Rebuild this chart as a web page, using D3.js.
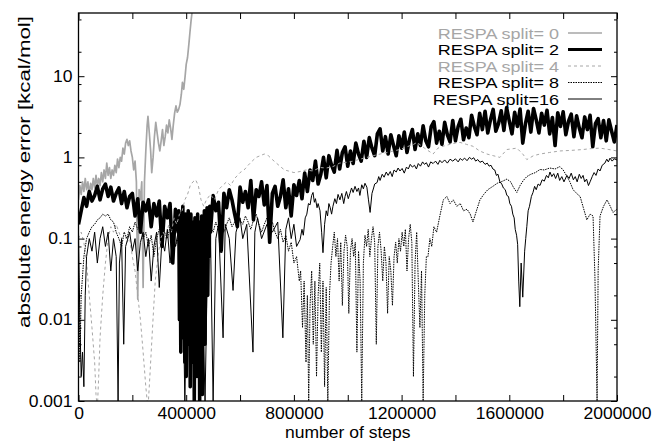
<!DOCTYPE html>
<html><head><meta charset="utf-8">
<script src="https://cdn.jsdelivr.net/npm/d3@7/dist/d3.min.js"></script>
<style>body{margin:0;background:#fff}svg{display:block}</style>
</head><body>
<svg id="c" width="652" height="441"></svg>
<script>
// ---- data (steps in thousands, absolute energy error in kcal/mol) ----
const xTickValues = [0,200000,400000,600000,800000,1000000,1200000,1400000,1600000,1800000,2000000];
const xTickLabels = ["0","","400000","","800000","","1200000","","1600000","","2000000"];
const yMajorTicks = [0.001,0.01,0.1,1,10];
const yTickLabels = ["0.001","0.01","0.1","1","10"];
const yMinorTicks = [0.002,0.005,0.008,0.02,0.05,0.08,0.2,0.5,0.8,2,5,8,20,50];
const legendLabels = ["RESPA split= 0","RESPA split= 2","RESPA split= 4","RESPA split= 8","RESPA split=16"];

const split0 = [[0,0.3],[5,0.45],[10,0.35],[15,0.5],[20,0.38],[25,0.55],[30,0.4],[35,0.5],[40,0.35],[45,0.48],[50,0.4],[55,0.55],[60,0.42],[65,0.6],[70,0.45],[75,0.55],[80,0.45],[85,0.65],[90,0.5],[95,0.7],[100,0.55],[105,0.85],[110,0.6],[115,0.75],[120,0.55],[125,0.7],[130,0.6],[135,0.8],[140,0.65],[145,0.95],[150,0.75],[155,1.0],[160,0.9],[165,1.3],[170,1.1],[175,1.5],[180,1.67],[185,1.4],[190,1.6],[195,1.2],[200,1.0],[205,0.7],[210,0.9],[215,0.5],[220,0.018],[225,0.4],[230,0.3],[235,0.5],[240,0.025],[245,0.5],[250,1.2],[255,2.5],[258,3.2],[263,2.0],[268,1.2],[272,0.65],[277,1.0],[282,1.8],[287,2.7],[292,2.0],[297,1.5],[302,1.2],[307,1.6],[312,2.2],[317,1.4],[322,1.8],[327,2.5],[332,2.0],[337,2.9],[342,2.3],[347,1.67],[352,2.5],[357,3.5],[362,4.3],[367,3.6],[372,3.9],[377,4.5],[382,6.0],[386,8.4],[391,6.9],[396,10],[400,14],[405,17],[410,25],[414,35],[418,48],[422,62],[425,80]];

const split2 = [[0,0.15],[10,0.22],[20,0.32],[30,0.25],[40,0.38],[50,0.29],[60,0.34],[70,0.44],[80,0.3],[90,0.41],[100,0.47],[110,0.33],[120,0.43],[130,0.29],[140,0.36],[150,0.42],[160,0.27],[170,0.38],[180,0.24],[190,0.33],[200,0.36],[210,0.19],[220,0.31],[230,0.12],[240,0.28],[250,0.22],[260,0.3],[270,0.14],[280,0.27],[290,0.19],[300,0.29],[310,0.08],[320,0.25],[330,0.18],[340,0.27],[350,0.05],[360,0.23],[370,0.12],[372.5,0.22],[375,0.01],[377.5,0.2],[380,0.004],[382.5,0.15],[385,0.02],[387.5,0.25],[390,0.006],[392.5,0.18],[395,0.003],[397.5,0.2],[400,0.002],[402.5,0.15],[405,0.015],[407.5,0.22],[410,0.005],[412.5,0.12],[415,0.0015],[417.5,0.2],[420,0.008],[422.5,0.16],[425,0.003],[427.5,0.1],[430,0.001],[432.5,0.18],[435,0.012],[437.5,0.14],[440,0.002],[442.5,0.2],[445,0.006],[447.5,0.11],[450,0.001],[452.5,0.16],[455,0.004],[457.5,0.19],[460,0.0012],[462.5,0.13],[465,0.01],[467.5,0.22],[470,0.005],[472.5,0.17],[475,0.03],[477.5,0.24],[480,0.02],[482.5,0.2],[485,0.06],[487.5,0.25],[490,0.12],[500,0.34],[510,0.22],[520,0.28],[530,0.07],[540,0.36],[550,0.24],[560,0.4],[570,0.3],[580,0.2],[590,0.14],[600,0.43],[610,0.28],[620,0.38],[630,0.24],[640,0.52],[650,0.17],[660,0.4],[670,0.33],[680,0.5],[690,0.26],[700,0.45],[710,0.09],[720,0.36],[730,0.44],[740,0.25],[750,0.33],[760,0.53],[770,0.24],[780,0.41],[790,0.19],[800,0.46],[810,0.34],[820,0.52],[830,0.31],[840,0.64],[850,0.38],[860,0.7],[870,0.52],[880,0.9],[890,0.47],[900,0.62],[910,1.0],[920,0.56],[930,1.05],[940,0.8],[950,0.66],[960,1.22],[970,0.72],[980,1.15],[990,1.35],[1000,0.78],[1010,1.2],[1020,0.84],[1030,1.5],[1040,1.1],[1050,0.9],[1060,1.58],[1070,1.0],[1080,1.75],[1090,1.3],[1100,1.05],[1110,1.95],[1120,2.25],[1130,1.2],[1140,1.8],[1150,1.1],[1160,1.9],[1170,1.4],[1180,1.05],[1190,1.85],[1200,1.3],[1210,2.05],[1220,1.15],[1230,1.7],[1240,2.2],[1250,1.25],[1260,1.95],[1270,1.4],[1280,2.45],[1290,1.6],[1300,1.35],[1310,2.4],[1320,2.75],[1330,1.5],[1340,2.1],[1350,1.45],[1360,2.7],[1370,1.9],[1380,1.55],[1390,2.85],[1400,1.6],[1410,2.4],[1420,2.95],[1430,1.65],[1440,2.3],[1450,1.75],[1460,3.3],[1470,2.4],[1480,1.9],[1490,3.5],[1500,2.2],[1510,3.7],[1520,2.0],[1530,2.9],[1540,3.9],[1550,2.1],[1560,2.6],[1570,3.75],[1580,2.15],[1590,4.1],[1600,2.8],[1610,1.95],[1620,3.6],[1630,2.4],[1640,3.95],[1650,1.5],[1660,2.6],[1670,3.7],[1680,2.05],[1690,4.0],[1700,2.9],[1710,2.0],[1720,3.5],[1730,2.5],[1740,3.8],[1750,1.95],[1760,3.1],[1770,1.4],[1780,3.55],[1790,2.4],[1800,3.65],[1810,1.9],[1820,2.8],[1830,3.4],[1840,1.8],[1850,3.25],[1860,2.3],[1870,1.75],[1880,3.15],[1890,2.2],[1900,3.3],[1910,1.35],[1920,2.6],[1930,3.0],[1940,1.75],[1950,2.85],[1960,1.6],[1970,2.9],[1980,2.1],[1990,1.55],[2000,2.5]];

const split4 = [[0,0.1],[10,0.12],[20,0.09],[30,0.05],[40,0.02],[50,0.008],[60,0.003],[65,0.0012],[70,0.0008],[75,0.002],[80,0.006],[90,0.02],[100,0.05],[110,0.1],[120,0.14],[130,0.12],[140,0.15],[150,0.12],[160,0.1],[170,0.12],[180,0.09],[190,0.1],[200,0.06],[210,0.04],[220,0.02],[230,0.01],[240,0.004],[250,0.0015],[258,0.0008],[265,0.002],[275,0.008],[285,0.03],[295,0.06],[305,0.1],[315,0.12],[325,0.1],[335,0.15],[345,0.12],[355,0.18],[365,0.15],[375,0.2],[385,0.22],[395,0.3],[405,0.35],[415,0.45],[425,0.5],[435,0.53],[445,0.45],[455,0.3],[465,0.25],[475,0.3],[490,0.35],[505,0.3],[520,0.4],[535,0.45],[550,0.5],[565,0.45],[580,0.55],[600,0.65],[615,0.7],[630,0.8],[645,0.9],[660,1.0],[675,1.05],[690,1.1],[705,1.05],[720,0.94],[735,0.85],[750,0.77],[765,0.7],[780,0.68],[800,0.65],[823,0.67],[845,0.7],[870,0.68],[897,0.75],[920,0.74],[945,0.77],[970,0.85],[995,0.87],[1020,0.9],[1045,0.95],[1071,1.0],[1095,1.05],[1120,1.1],[1145,1.15],[1170,1.2],[1194,1.25],[1220,1.35],[1245,1.45],[1257,1.53],[1285,1.3],[1317,1.1],[1335,1.3],[1354,1.37],[1380,1.45],[1400,1.5],[1417,1.53],[1440,1.45],[1465,1.37],[1490,1.2],[1517,1.1],[1540,1.05],[1565,1.0],[1591,1.25],[1628,1.3],[1650,1.1],[1665,0.94],[1690,1.05],[1714,1.1],[1750,1.15],[1788,1.2],[1830,1.22],[1874,1.25],[1900,1.28],[1937,1.3],[1970,1.25],[2000,1.2]];

const split8 = [[0,0.05],[5,0.003],[10,0.02],[20,0.06],[30,0.1],[40,0.12],[50,0.14],[60,0.15],[70,0.17],[80,0.18],[90,0.2],[100,0.19],[110,0.2],[120,0.17],[130,0.16],[140,0.12],[150,0.1],[160,0.08],[170,0.12],[180,0.1],[190,0.14],[200,0.12],[210,0.16],[220,0.13],[230,0.15],[240,0.1],[250,0.12],[260,0.08],[270,0.11],[280,0.06],[290,0.1],[300,0.13],[310,0.15],[320,0.12],[330,0.1],[340,0.14],[350,0.12],[360,0.08],[370,0.1],[380,0.05],[390,0.08],[400,0.04],[410,0.07],[420,0.05],[430,0.09],[440,0.06],[450,0.1],[460,0.08],[470,0.12],[480,0.1],[490,0.14],[500,0.12],[510,0.16],[520,0.13],[530,0.17],[540,0.12],[550,0.15],[560,0.18],[570,0.14],[580,0.16],[590,0.2],[600,0.17],[610,0.15],[620,0.19],[630,0.16],[640,0.13],[650,0.17],[660,0.2],[670,0.15],[680,0.12],[690,0.15],[700,0.18],[710,0.14],[720,0.16],[730,0.12],[740,0.1],[750,0.13],[760,0.09],[770,0.11],[780,0.07],[790,0.09],[800,0.05],[810,0.06],[820,0.03],[825,0.04],[832,0.008],[838,0.03],[845,0.003],[850,0.02],[855,0.001],[860,0.015],[866,0.04],[872,0.005],[878,0.03],[884,0.002],[890,0.02],[896,0.05],[902,0.004],[908,0.03],[914,0.0015],[920,0.025],[926,0.001],[932,0.02],[938,0.05],[944,0.08],[950,0.12],[956,0.06],[962,0.1],[968,0.03],[974,0.09],[980,0.015],[986,0.07],[992,0.11],[998,0.08],[1004,0.012],[1010,0.07],[1016,0.1],[1022,0.06],[1028,0.09],[1034,0.004],[1040,0.07],[1046,0.03],[1052,0.001],[1058,0.05],[1064,0.11],[1070,0.08],[1076,0.13],[1082,0.06],[1088,0.1],[1094,0.14],[1100,0.09],[1106,0.005],[1112,0.08],[1118,0.12],[1124,0.07],[1130,0.03],[1136,0.08],[1142,0.05],[1148,0.012],[1154,0.06],[1160,0.04],[1166,0.015],[1172,0.06],[1178,0.09],[1184,0.05],[1190,0.1],[1196,0.07],[1202,0.12],[1208,0.08],[1214,0.13],[1220,0.04],[1226,0.1],[1232,0.15],[1238,0.09],[1244,0.002],[1250,0.05],[1256,0.12],[1262,0.03],[1268,0.008],[1274,0.04],[1280,0.001],[1286,0.02],[1292,0.06],[1298,0.06],[1305,0.1],[1312,0.08],[1320,0.14],[1330,0.12],[1342,0.19],[1355,0.3],[1368,0.33],[1380,0.27],[1392,0.3],[1405,0.25],[1418,0.27],[1430,0.22],[1443,0.23],[1455,0.2],[1465,0.16],[1478,0.22],[1491,0.3],[1505,0.35],[1520,0.4],[1539,0.44],[1555,0.48],[1570,0.5],[1591,0.54],[1605,0.5],[1615,0.43],[1628,0.37],[1640,0.45],[1652,0.52],[1665,0.58],[1680,0.62],[1697,0.65],[1714,0.71],[1730,0.7],[1750,0.74],[1770,0.72],[1788,0.77],[1800,0.7],[1812,0.6],[1825,0.5],[1837,0.4],[1850,0.36],[1863,0.33],[1875,0.24],[1888,0.17],[1900,0.2],[1911,0.19],[1918,0.034],[1926,0.001],[1930,0.04],[1937,0.19],[1950,0.25],[1963,0.3],[1975,0.25],[1985,0.21],[2000,0.23]];

const split16 = [[0,0.12],[5,0.01],[10,0.002],[15,0.004],[20,0.0015],[25,0.02],[30,0.06],[40,0.1],[50,0.07],[60,0.12],[70,0.05],[80,0.1],[90,0.14],[100,0.08],[110,0.12],[120,0.04],[130,0.1],[140,0.06],[147,0.001],[152,0.05],[160,0.1],[168,0.005],[175,0.08],[190,0.12],[200,0.07],[210,0.1],[220,0.04],[230,0.09],[240,0.12],[250,0.06],[260,0.1],[270,0.03],[280,0.08],[290,0.12],[300,0.025],[310,0.1],[320,0.07],[330,0.13],[340,0.05],[350,0.1],[360,0.08],[370,0.12],[385,0.1],[395,0.001],[405,0.08],[415,0.01],[425,0.12],[440,0.02],[455,0.1],[470,0.001],[480,0.08],[490,0.12],[500,0.001],[510,0.1],[520,0.15],[537,0.006],[545,0.15],[560,0.1],[574,0.023],[585,0.12],[600,0.18],[610,0.1],[625,0.15],[648,0.004],[655,0.12],[665,0.18],[680,0.1],[700,0.15],[720,0.12],[740,0.16],[759,0.006],[770,0.13],[780,0.18],[790,0.1],[800,0.15],[810,0.08],[823,0.097],[830,0.13],[835,0.11],[842,0.18],[848,0.2],[854,0.27],[860,0.26],[866,0.34],[871,0.37],[876,0.28],[880,0.31],[886,0.24],[890,0.27],[897,0.22],[903,0.12],[908,0.067],[914,0.15],[920,0.22],[925,0.19],[930,0.27],[935,0.24],[940,0.2],[945,0.25],[952,0.31],[958,0.27],[964,0.35],[971,0.3],[978,0.36],[985,0.27],[990,0.33],[995,0.38],[1002,0.31],[1008,0.36],[1014,0.42],[1020,0.37],[1027,0.44],[1034,0.38],[1040,0.42],[1045,0.34],[1052,0.46],[1058,0.41],[1064,0.48],[1071,0.43],[1077,0.3],[1083,0.21],[1090,0.36],[1096,0.42],[1100,0.47],[1109,0.49],[1115,0.58],[1120,0.52],[1128,0.62],[1135,0.57],[1143,0.66],[1150,0.6],[1158,0.67],[1165,0.58],[1172,0.7],[1180,0.66],[1187,0.74],[1194,0.68],[1202,0.73],[1210,0.64],[1218,0.76],[1225,0.72],[1232,0.82],[1240,0.76],[1248,0.8],[1255,0.72],[1262,0.84],[1270,0.78],[1278,0.88],[1285,0.82],[1292,0.86],[1300,0.76],[1308,0.88],[1317,0.84],[1326,0.9],[1335,0.82],[1342,0.92],[1350,0.86],[1360,0.93],[1370,0.85],[1380,0.95],[1390,0.9],[1400,0.96],[1410,0.88],[1418,0.97],[1425,0.92],[1434,0.98],[1443,0.91],[1452,1.0],[1460,0.95],[1468,0.99],[1475,0.9],[1483,0.94],[1491,0.87],[1500,0.9],[1510,0.82],[1518,0.85],[1525,0.78],[1532,0.8],[1539,0.72],[1546,0.7],[1552,0.6],[1558,0.62],[1565,0.5],[1572,0.47],[1578,0.42],[1585,0.4],[1591,0.34],[1597,0.33],[1602,0.27],[1608,0.25],[1613,0.2],[1618,0.18],[1622,0.13],[1627,0.11],[1631,0.085],[1635,0.03],[1639,0.0145],[1644,0.05],[1650,0.019],[1657,0.07],[1661,0.1],[1665,0.14],[1670,0.22],[1675,0.25],[1682,0.33],[1688,0.37],[1694,0.44],[1700,0.4],[1707,0.47],[1714,0.45],[1722,0.53],[1730,0.51],[1738,0.6],[1745,0.56],[1751,0.66],[1758,0.58],[1765,0.63],[1772,0.55],[1780,0.64],[1787,0.52],[1795,0.58],[1803,0.5],[1814,0.6],[1822,0.55],[1830,0.64],[1838,0.53],[1845,0.58],[1852,0.5],[1860,0.62],[1867,0.55],[1874,0.6],[1880,0.5],[1887,0.54],[1894,0.45],[1900,0.5],[1908,0.58],[1915,0.65],[1922,0.6],[1930,0.72],[1937,0.68],[1945,0.8],[1955,0.85],[1962,0.95],[1968,0.88],[1974,0.98],[1982,0.9],[1990,0.96],[2000,0.93]];

// ---- layout ----
const L = 78.5, R = 617, T = 13, B = 401;
const FONT = "'Liberation Sans', Arial, Helvetica, sans-serif";
const GRAY = "#a6a6a6";

const svg = d3.select("#c");
const x = d3.scaleLinear().domain([0, 2000000]).range([L, R]);
const y = d3.scaleLog().domain([0.001, 60]).range([B, T]);

// widen glyphs horizontally (reference text is short and wide)
function widen(sel, factor) {
  sel.each(function() {
    const w = this.getComputedTextLength();
    if (w > 0) d3.select(this).attr("textLength", w*factor).attr("lengthAdjust","spacingAndGlyphs");
  });
}

svg.append("defs").append("clipPath").attr("id","clip")
  .append("rect").attr("x",L).attr("y",T).attr("width",R-L).attr("height",B-T);

const styles = [
  {data: split0,  color: GRAY,   width: 1.7, dash: null,    lw: 1.7},
  {data: split2,  color: "#000", width: 3.6, dash: null,    lw: 3.2},
  {data: split4,  color: GRAY,   width: 1.0, dash: "3,3",   lw: 1.0},
  {data: split8,  color: "#000", width: 1.0, dash: "1.5,1", lw: 1.0},
  {data: split16, color: "#000", width: 1.0, dash: null,    lw: 1.0}
];

const line = d3.line().x(d => x(d[0]*1000)).y(d => y(Math.max(d[1], 1e-4)));
const gLines = svg.append("g").attr("clip-path","url(#clip)");
styles.forEach(s => {
  gLines.append("path").datum(s.data).attr("d", line)
    .attr("fill","none").attr("stroke", s.color).attr("stroke-width", s.width)
    .attr("stroke-linejoin","round").attr("stroke-dasharray", s.dash);
});

// axes (gnuplot-style ticks inward, mirrored)
const axB = d3.axisBottom(x).tickValues(xTickValues).tickSize(-6).tickPadding(7)
  .tickFormat((d,i) => xTickLabels[i]);
svg.append("g").attr("class","lab").attr("transform",`translate(0,${B})`).call(axB)
  .call(g => g.select(".domain").remove());
svg.append("g").attr("transform",`translate(0,${T})`)
  .call(d3.axisTop(x).tickValues(xTickValues).tickSize(-6).tickFormat(""))
  .call(g => g.select(".domain").remove());

const axL = d3.axisLeft(y).tickValues(yMajorTicks).tickSize(-6).tickPadding(6)
  .tickFormat((d,i) => yTickLabels[i]);
svg.append("g").attr("class","lab").attr("transform",`translate(${L},0)`).call(axL)
  .call(g => g.select(".domain").remove());
svg.append("g").attr("transform",`translate(${L},0)`)
  .call(d3.axisLeft(y).tickValues(yMinorTicks).tickSize(-3).tickFormat(""))
  .call(g => g.select(".domain").remove());
svg.append("g").attr("transform",`translate(${R},0)`)
  .call(d3.axisRight(y).tickValues(yMajorTicks).tickSize(-6).tickFormat(""))
  .call(g => g.select(".domain").remove());
svg.append("g").attr("transform",`translate(${R},0)`)
  .call(d3.axisRight(y).tickValues(yMinorTicks).tickSize(-3).tickFormat(""))
  .call(g => g.select(".domain").remove());

svg.selectAll(".tick line").attr("stroke","#000").attr("stroke-width",1);
svg.selectAll(".lab .tick text").attr("font-family",FONT).attr("font-size",16).attr("fill","#000")
  .call(widen, 17.5/16);

// frame
svg.append("rect").attr("x",L).attr("y",T).attr("width",R-L).attr("height",B-T)
  .attr("fill","none").attr("stroke","#000").attr("stroke-width",1.3);

// axis titles
svg.append("text").attr("x",(L+R)/2).attr("y",438).attr("text-anchor","middle")
  .attr("font-family",FONT).attr("font-size",16).text("number of steps")
  .call(widen, 17.5/16);
svg.append("text").attr("transform",`translate(29.5,172) rotate(-90)`)
  .attr("text-anchor","middle").attr("font-family",FONT).attr("font-size",17)
  .attr("textLength",312).attr("lengthAdjust","spacingAndGlyphs")
  .text("absolute energy error [kcal/mol]");

// legend
const lg = svg.append("g");
styles.forEach((s,i) => {
  const cy = 33 + i*16.5;
  lg.append("text").attr("x",559).attr("y",cy+5.5).attr("text-anchor","end")
    .attr("font-family",FONT).attr("font-size",14.5)
    .attr("fill", (i===0||i===2) ? GRAY : "#000").text(legendLabels[i])
    .call(widen, 18/14.5);
  lg.append("line").attr("x1",568).attr("x2",602).attr("y1",cy).attr("y2",cy)
    .attr("stroke",s.color).attr("stroke-width", s.lw)
    .attr("stroke-dasharray", s.dash);
});
</script>
</body></html>
